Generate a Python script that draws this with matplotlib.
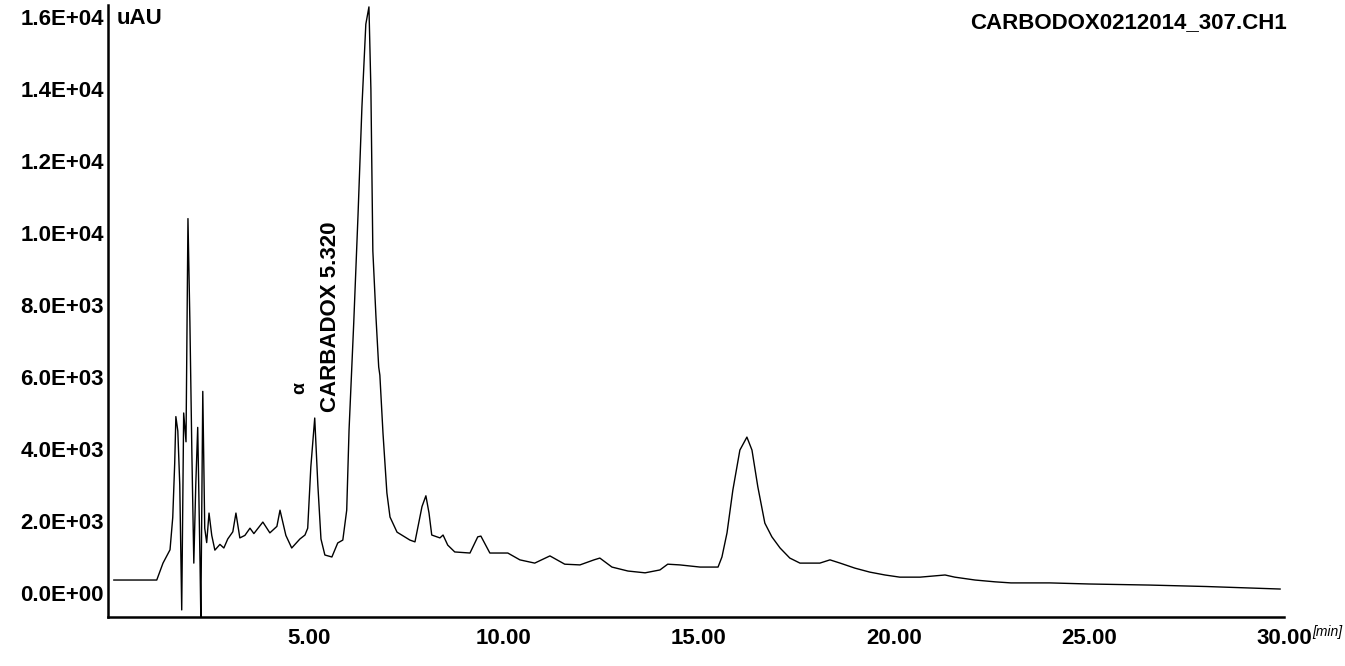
import matplotlib
matplotlib.use("Agg")
import matplotlib.pyplot as plt

plt.rcParams['font.family'] = ['Liberation Sans', 'DejaVu Sans']

# retention time (min) and detector response (uAU)
time_min = [0.00, 0.50, 1.10, 1.26, 1.44, 1.51, 1.56, 1.59, 1.64, 1.69, 1.74, 1.79,
            1.85, 1.90, 1.95, 2.00, 2.05, 2.10, 2.15, 2.21, 2.23, 2.28, 2.33, 2.38,
            2.44, 2.51, 2.59, 2.72, 2.82, 2.92, 3.05, 3.13, 3.23, 3.36, 3.49, 3.59,
            3.82, 4.00, 4.18, 4.26, 4.41, 4.56, 4.77, 4.90, 4.97, 5.05, 5.15, 5.23,
            5.31, 5.41, 5.59, 5.74, 5.87, 5.97, 6.03, 6.15, 6.26, 6.36, 6.46, 6.54,
            6.59, 6.64, 6.72, 6.79, 6.82, 6.90, 7.00, 7.08, 7.26, 7.59, 7.72, 7.90,
            8.00, 8.08, 8.15, 8.36, 8.44, 8.56, 8.74, 9.13, 9.33, 9.41, 9.64, 10.10,
            10.41, 10.79, 11.18, 11.56, 11.95, 12.31, 12.46, 12.77, 13.18, 13.62,
            14.00, 14.20, 14.51, 15.03, 15.49, 15.59, 15.72, 15.87, 16.05, 16.23,
            16.36, 16.51, 16.69, 16.87, 17.08, 17.33, 17.59, 18.10, 18.36, 18.62,
            19.00, 19.38, 19.77, 20.15, 20.67, 21.31, 21.56, 22.08, 22.59, 23.00,
            24.00, 25.00, 26.56, 28.00, 29.90]
response_uau = [360, 360, 360, 830, 1200, 2100, 3600, 4900, 4500, 3000, -470, 5000,
                4200, 10400, 7500, 3900, 830, 3000, 4600, 800, -700, 5600, 1800, 1400,
                2220, 1600, 1190, 1350, 1250, 1500, 1700, 2220, 1530, 1600, 1800, 1650,
                1970, 1670, 1850, 2300, 1600, 1250, 1500, 1610, 1800, 3500, 4860, 3000,
                1500, 1055, 1000, 1390, 1470, 2300, 4530, 7500, 10500, 13500, 15800, 16280,
                14000, 9500, 7670, 6280, 6050, 4440, 2780, 2110, 1690, 1470, 1420, 2400,
                2700, 2220, 1610, 1530, 1610, 1330, 1140, 1110, 1560, 1580, 1110, 1110,
                920, 830, 1030, 800, 780, 920, 970, 720, 610, 560,
                640, 800, 780, 720, 720, 1000, 1670, 2860, 3970, 4330,
                3970, 2950, 1940, 1560, 1250, 970, 830, 830, 920, 830,
                690, 580, 500, 440, 440, 500, 440, 360, 310, 280,
                280, 250, 220, 180, 110]

y_ticks = [0, 2000, 4000, 6000, 8000, 10000, 12000, 14000, 16000]
y_tick_labels = ["0.0E+00", "2.0E+03", "4.0E+03", "6.0E+03", "8.0E+03",
                 "1.0E+04", "1.2E+04", "1.4E+04", "1.6E+04"]
x_ticks = [5, 10, 15, 20, 25, 30]
x_tick_labels = ["5.00", "10.00", "15.00", "20.00", "25.00", "30.00"]

peak_label = "CARBADOX 5.320"
peak_label_pos = (5.56, 5030)
mark_pos = (4.77, 5700)
file_title = "CARBODOX0212014_307.CH1"

W, H = 1345, 666
fig = plt.figure(figsize=(W / 100, H / 100), dpi=100)
ax = fig.add_axes([108 / W, (H - 617) / H, (1284 - 108) / W, 612 / H])

ax.plot(time_min, response_uau, color="black", lw=1.0)

ax.set_xlim(-0.15, 30)
ax.set_ylim(-667, 16333)

for s in ("top", "right"):
    ax.spines[s].set_visible(False)
for s in ("left", "bottom"):
    ax.spines[s].set_linewidth(1.8)
    ax.spines[s].set_color("black")

ax.set_yticks(y_ticks)
ax.set_yticklabels(y_tick_labels, fontweight="bold")
ax.set_xticks(x_ticks)
ax.set_xticklabels(x_tick_labels, fontweight="bold")
ax.tick_params(axis="both", length=0, labelsize=16, colors="black")
ax.tick_params(axis="y", pad=3)
ax.tick_params(axis="x", pad=8)

ax.text(peak_label_pos[0], peak_label_pos[1], peak_label, rotation=90,
        ha="center", va="bottom", fontsize=16, fontweight="bold")
ax.text(mark_pos[0], mark_pos[1], "α", rotation=90, ha="center", va="center",
        fontsize=14, fontweight="bold")

fig.text(117 / W, 1 - 18 / H, "uAU", ha="left", va="center", fontsize=16,
         fontweight="bold")
fig.text(1287 / W, 1 - 23 / H, file_title, ha="right", va="center", fontsize=16,
         fontweight="bold")
fig.text(1312 / W, 1 - 632 / H, "[min]", ha="left", va="center", fontsize=10,
         style="italic")

fig.savefig("out.png", dpi=100, facecolor="white")
